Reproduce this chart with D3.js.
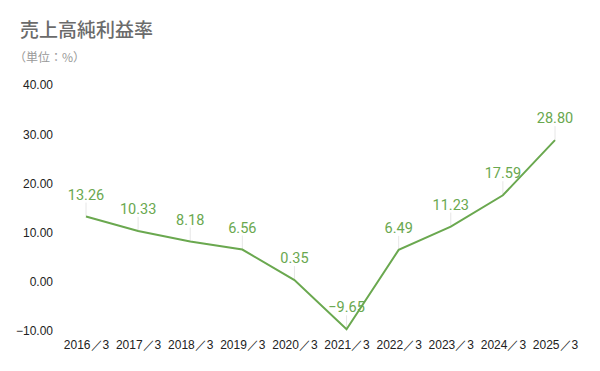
<!DOCTYPE html>
<html><head><meta charset="utf-8">
<script src="https://cdn.jsdelivr.net/npm/d3@7"></script>
<style>body{margin:0;background:#fff}svg{display:block}</style>
</head><body>
<svg id="c" width="600" height="371"></svg>
<script>
const categories = ["2016／3","2017／3","2018／3","2019／3","2020／3","2021／3","2022／3","2023／3","2024／3","2025／3"];
const values = [13.26,10.33,8.18,6.56,0.35,-9.65,6.49,11.23,17.59,28.80];
const yTicks = [-10,0,10,20,30,40];

const svg = d3.select("#c");
const color = "#6aa84f";
const x = d3.scalePoint().domain(categories).range([86,555]);
const y = d3.scaleLinear().domain([-10,40]).range([331,85]);

svg.append("text").attr("x",20).attr("y",37).text("売上高純利益率")
  .attr("font-family","'Noto Sans CJK JP'").attr("font-size",19).attr("font-weight",500).attr("fill","#6b6b6b");
svg.append("text").attr("x",14).attr("y",62).text("（単位：%）")
  .attr("font-family","'Noto Sans CJK JP'").attr("font-size",12).attr("fill","#999");

const yAxis = svg.append("g").attr("transform","translate(53,0)")
  .call(d3.axisLeft(y).tickValues(yTicks).tickSize(0).tickPadding(0).tickFormat(d3.format(".2f")));
yAxis.select(".domain").remove();
yAxis.selectAll("text").attr("font-family","'Liberation Sans',Arial").attr("font-size",12).attr("fill","#222");

const xAxis = svg.append("g").attr("transform","translate(0,336)")
  .call(d3.axisBottom(x).tickSize(0).tickPadding(4));
xAxis.select(".domain").remove();
xAxis.selectAll("text").attr("font-family","'Liberation Sans',Arial").attr("font-size",12).attr("fill","#222");

const data = categories.map((c,i)=>({c,v:values[i]}));
svg.append("g").selectAll("line").data(data).join("line")
  .attr("x1",d=>x(d.c)).attr("x2",d=>x(d.c))
  .attr("y1",d=>y(d.v)).attr("y2",d=>y(d.v)-14)
  .attr("stroke","#e6e6e6").attr("stroke-width",1);

svg.append("path").datum(data)
  .attr("d",d3.line().x(d=>x(d.c)).y(d=>y(d.v)))
  .attr("fill","none").attr("stroke",color).attr("stroke-width",2);

svg.append("g").selectAll("text").data(data).join("text")
  .attr("x",d=>x(d.c)).attr("y",d=>y(d.v)-17)
  .attr("text-anchor","middle")
  .attr("font-family","Roboto").attr("font-size",14.5).attr("fill",color)
  .text(d=>d3.format(".2f")(d.v));
</script>
</body></html>
